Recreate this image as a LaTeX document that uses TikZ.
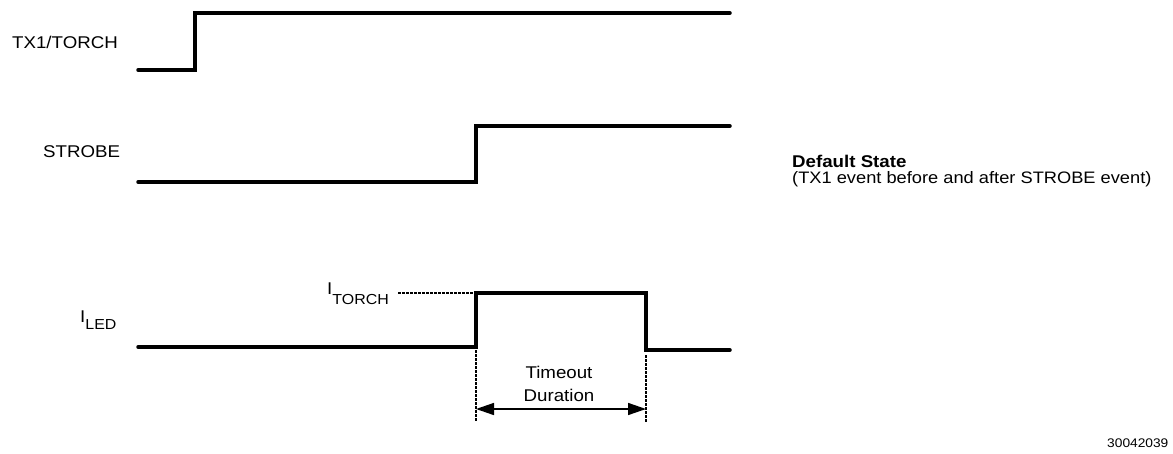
\documentclass[tikz,border=0pt]{standalone}
\usepackage{fontspec}
\setmainfont[FakeStretch=1.1]{Liberation Sans}
\usetikzlibrary{arrows.meta}
\newcommand{\subtxt}[2]{\raisebox{#1}{\fontsize{14.5}{16}\selectfont #2}}
\begin{document}
\begin{tikzpicture}[x=1pt,y=-1pt,
  sig/.style={line width=3.5pt,line cap=round,line join=miter},
  lbl/.style={inner sep=0,anchor=base west,font=\fontsize{17}{20}\selectfont},
  guide/.style={line width=1.2pt,dash pattern=on 2.5pt off 1.5pt}]
\useasboundingbox (0,0) rectangle (1173,453);
% signals
\draw[sig] (138,70) -- (195,70) -- (195,13) -- (730,13);
\draw[sig] (138,182) -- (476,182) -- (476,126) -- (730,126);
\draw[sig] (138,347) -- (476,347) -- (476,293) -- (646,293) -- (646,350) -- (730,350);
% labels
\node[lbl] (tx) at (12,48) {TX1/TORCH};
\node[lbl] (st) at (43,157) {STROBE};
\node[lbl] (iled) at (80,322) {I\subtxt{-7pt}{LED}};
\node[lbl] (itorch) at (327,294) {I\subtxt{-10pt}{TORCH}};
% guides
\coordinate (g0) at (398,293);
\coordinate (g1) at (476,293);
\draw[guide] (g0) -- (g1);
\coordinate (d1a) at (476,350); \coordinate (d1b) at (476,422);
\coordinate (d2a) at (646,355); \coordinate (d2b) at (646,422);
\draw[guide] (d1a) -- (d1b);
\draw[guide] (d2a) -- (d2b);
\coordinate (a) at (476,409); \coordinate (b) at (646,409);
\draw[line width=1.5pt,{Triangle[length=18pt,width=12pt]}-{Triangle[length=18pt,width=12pt]}] (a) -- (b);
\node[font=\fontsize{17}{23}\selectfont,align=center,inner sep=0] (to) at (559,384) {Timeout\\Duration};
% default state
\node[lbl,font=\fontsize{17}{20}\selectfont\bfseries] (ds) at (792,167) {Default State};
\node[lbl,font=\fontsize{16.6}{20}\selectfont] (ds2) at (792,183) {(TX1 event before and after STROBE event)};
\node[inner sep=0,anchor=base west,font=\fontsize{12.5}{14}\selectfont] (id) at (1107,447) {30042039};
\end{tikzpicture}
\end{document}
